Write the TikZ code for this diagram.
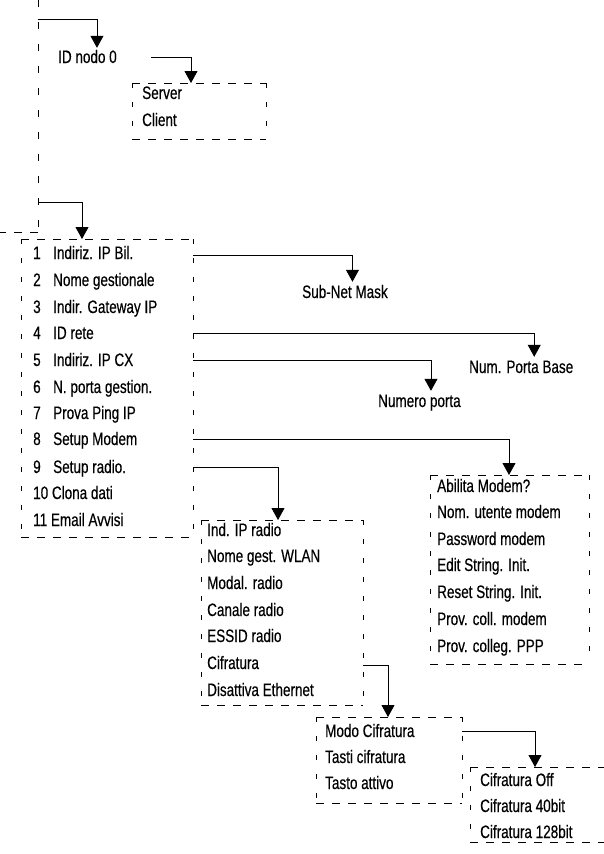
\documentclass[tikz,border=0pt]{standalone}
\usepackage{fontspec}
\setmainfont[FakeStretch=0.75,FakeBold=0.4]{Liberation Sans}
\usetikzlibrary{arrows.meta}
\begin{document}
\begin{tikzpicture}[x=1pt,y=-1pt,
  lbl/.style={anchor=west, inner sep=1pt, text height=13pt, text depth=4pt, yshift=-1.5pt, font=\fontsize{18}{20}\selectfont},
  hdash/.style={draw, dash pattern=on 8pt off 8pt, line width=0.8pt},
  vdash/.style={draw, dash pattern=on 5pt off 14pt, line width=0.8pt},
  dbox/.style={anchor=north west, inner sep=0pt},
  arr/.style={draw, line width=0.8pt, -{Triangle[width=13pt,length=12pt]}},
]
\useasboundingbox (0,0) rectangle (604,854);

% partial outer frame
\coordinate (ltop) at (38,0);
\coordinate (lcorner) at (38,232);
\coordinate (lleft) at (-5,232);
\draw[vdash, dash pattern=on 7pt off 15pt] (ltop) -- (lcorner);
\draw[hdash] (lcorner) -- (lleft);
\coordinate (l1) at (38,19);
\coordinate (l2) at (38,202);

% boxes
\node[dbox, minimum width=134pt, minimum height=56pt] (sbox) at (132,83) {};
\node[dbox, minimum width=172pt, minimum height=298pt] (mainbox) at (21,239) {};
\node[dbox, minimum width=159pt, minimum height=189pt] (modembox) at (430,475) {};
\node[dbox, minimum width=162pt, minimum height=185pt] (radiobox) at (201,520) {};
\node[dbox, minimum width=146pt, minimum height=86pt] (cifrbox) at (316,717) {};
\node[dbox, minimum width=160pt, minimum height=75pt] (offbox) at (470,767) {};
\foreach \b in {sbox,mainbox,modembox,radiobox,cifrbox,offbox}{
  \draw[hdash] (\b.north west) -- (\b.north east);
  \draw[hdash] (\b.south west) -- (\b.south east);
  \draw[vdash] (\b.north west) -- (\b.south west);
  \draw[vdash] (\b.north east) -- (\b.south east);
}

% texts
\node[lbl] (idnodo) at (57,57) {ID nodo 0};
\node[lbl] (s1) at (141,93) {Server};
\node[lbl] (s2) at (141,120) {Client};

\node[lbl] (n1) at (32,253) {1};
\node[lbl] (i1) at (52,253) {Indiriz. IP Bil.};
\node[lbl] (n2) at (32,280) {2};
\node[lbl] (i2) at (52,280) {Nome gestionale};
\node[lbl] (n3) at (32,307) {3};
\node[lbl] (i3) at (52,307) {Indir. Gateway IP};
\node[lbl] (n4) at (32,333) {4};
\node[lbl] (i4) at (52,333) {ID rete};
\node[lbl] (n5) at (32,360) {5};
\node[lbl] (i5) at (52,360) {Indiriz. IP CX};
\node[lbl] (n6) at (32,387) {6};
\node[lbl] (i6) at (52,387) {N. porta gestion.};
\node[lbl] (n7) at (32,413) {7};
\node[lbl] (i7) at (52,413) {Prova Ping IP};
\node[lbl] (n8) at (32,439) {8};
\node[lbl] (i8) at (52,439) {Setup Modem};
\node[lbl] (n9) at (32,467) {9};
\node[lbl] (i9) at (52,467) {Setup radio.};
\node[lbl] (i10) at (32,493) {10 Clona dati};
\node[lbl] (i11) at (32,520) {11 Email Avvisi};

\node[lbl] (subnet) at (301,292) {Sub-Net Mask};
\node[lbl] (numbase) at (468,367) {Num. Porta Base};
\node[lbl] (numporta) at (377,401) {Numero porta};

\node[lbl] (m1) at (436,486) {Abilita Modem?};
\node[lbl] (m2) at (436,512) {Nom. utente modem};
\node[lbl] (m3) at (436,539) {Password modem};
\node[lbl] (m4) at (436,565) {Edit String. Init.};
\node[lbl] (m5) at (436,592) {Reset String. Init.};
\node[lbl] (m6) at (436,619) {Prov. coll. modem};
\node[lbl] (m7) at (436,646) {Prov. colleg. PPP};

\node[lbl] (r1) at (206,530) {Ind. IP radio};
\node[lbl] (r2) at (206,556) {Nome gest. WLAN};
\node[lbl] (r3) at (206,583) {Modal. radio};
\node[lbl] (r4) at (206,610) {Canale radio};
\node[lbl] (r5) at (206,636) {ESSID radio};
\node[lbl] (r6) at (206,663) {Cifratura};
\node[lbl] (r7) at (206,690) {Disattiva Ethernet};

\node[lbl] (c1) at (324,731) {Modo Cifratura};
\node[lbl] (c2) at (324,757) {Tasti cifratura};
\node[lbl] (c3) at (324,783) {Tasto attivo};

\node[lbl] (o1) at (479,780) {Cifratura Off};
\node[lbl] (o2) at (479,806) {Cifratura 40bit};
\node[lbl] (o3) at (479,832) {Cifratura 128bit};

% connectors
\draw[arr] (l1) -| ([xshift=9.5pt,yshift=1pt]idnodo.north);
\draw[arr] ([xshift=33pt,yshift=1.5pt]idnodo.east) -| ([xshift=59pt]sbox.north west);
\draw[arr] (l2) -| ([xshift=61pt]mainbox.north west);
\draw[arr] ([yshift=-0.5pt]mainbox.east |- i1) -| ([xshift=7.5pt,yshift=2pt]subnet.north);
\draw[arr] ([yshift=1.5pt]mainbox.east |- i4) -| ([xshift=13pt,yshift=2pt]numbase.north);
\draw[arr] ([yshift=1.5pt]mainbox.east |- i5) -| ([xshift=11.5pt,yshift=2pt]numporta.north);
\draw[arr] ([yshift=1.5pt]mainbox.east |- i8) -| ([xshift=79pt]modembox.north west);
\draw[arr] ([yshift=1.5pt]mainbox.east |- i9) -| ([xshift=77pt]radiobox.north west);
\draw[arr] ([yshift=-0.5pt]radiobox.east |- r6) -| ([xshift=72pt]cifrbox.north west);
\draw[arr] ([yshift=1.5pt]cifrbox.east |- c1) -| ([xshift=65pt]offbox.north west);
\end{tikzpicture}
\end{document}
